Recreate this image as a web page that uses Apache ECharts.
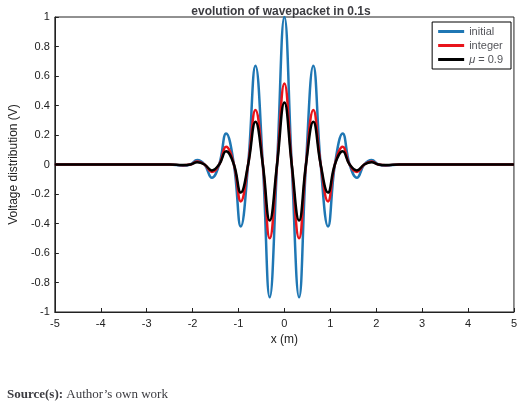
<!DOCTYPE html>
<html><head><meta charset="utf-8">
<script src="https://cdn.jsdelivr.net/npm/echarts@6/dist/echarts.min.js"></script>
<style>html,body{margin:0;padding:0;background:#fff}#c{width:520px;height:407px}</style>
</head><body><div id="c"></div>
<script>
const xs = [-5,-2.5,-2.21,-2.05,-1.9,-1.74,-1.58,-1.42,-1.27,-1.1,-0.95,-0.79,-0.63,-0.47,-0.32,-0.16,0,0.16,0.32,0.47,0.63,0.79,0.95,1.1,1.27,1.42,1.58,1.74,1.9,2.05,2.21,2.5,5];
const initial = [0,0,-0.008,0,0.03,0,-0.09,0,0.21,0,-0.42,0,0.67,0,-0.9,0,1.0,0,-0.9,0,0.67,0,-0.42,0,0.21,0,-0.09,0,0.03,0,-0.008,0,0];
const integer = [0,0,-0.005,0,0.02,0,-0.05,0,0.12,0,-0.25,0,0.37,0,-0.5,0,0.55,0,-0.5,0,0.37,0,-0.25,0,0.12,0,-0.05,0,0.02,0,-0.005,0,0];
const mu09 = [0,0,-0.004,0,0.015,0,-0.04,0,0.09,0,-0.19,0,0.29,0,-0.38,0,0.42,0,-0.38,0,0.29,0,-0.19,0,0.09,0,-0.04,0,0.015,0,-0.004,0,0];
const names = ['initial','integer','{i|μ} = 0.9'];
const colors = ['#1f77b4','#e8141b','#000000'];
const pair = a => xs.map((x,i)=>[x,a[i]]);
const chart = echarts.init(document.getElementById('c'));
const mk = (n,a,c,w)=>({name:n,type:'line',data:pair(a),smooth:0.45,showSymbol:false,lineStyle:{color:c,width:w},itemStyle:{color:c}});
chart.setOption({
 animation:false,
 title:[{text:'evolution of wavepacket in 0.1s',left:276,top:1,textAlign:'center',textStyle:{fontSize:12,fontWeight:'bold',fontFamily:'Liberation Sans'}},
  {text:'{b|Source(s):} Author’s own work',left:2,top:383,textStyle:{rich:{b:{fontWeight:'bold',fontSize:13,fontFamily:'Liberation Serif'}},fontSize:13,fontWeight:'normal',fontFamily:'Liberation Serif'}}],
 legend:{right:9,top:22,orient:'vertical',itemWidth:26,itemHeight:3,itemGap:3,backgroundColor:'#fff',borderColor:'#000',borderWidth:1,padding:[4,8,4,6],
  textStyle:{fontSize:11,fontFamily:'Liberation Sans',rich:{i:{fontStyle:'italic',fontSize:11}}},icon:'rect'},
 grid:{left:38,right:5,top:17,bottom:95,show:true,borderColor:'#222',borderWidth:1},
 xAxis:{type:'value',min:-5,max:5,interval:1,name:'x (m)',nameLocation:'middle',nameGap:18,nameTextStyle:{fontSize:12,color:'#222'},
  axisLine:{onZero:false,lineStyle:{color:'#222'}},axisTick:{inside:true,length:4},splitLine:{show:false},axisLabel:{fontSize:11,color:'#222',margin:6}},
 yAxis:{type:'value',min:-1,max:1,interval:0.2,name:'Voltage distribution (V)',nameLocation:'middle',nameGap:25,nameTextStyle:{fontSize:12,color:'#222'},
  axisLine:{onZero:false,lineStyle:{color:'#222'}},axisTick:{inside:true,length:4},splitLine:{show:false},
  axisLabel:{fontSize:11,color:'#222',margin:5,formatter:v=>String(Math.round(v*10)/10)}},
 series:[mk(names[0],initial,colors[0],2.5),mk(names[1],integer,colors[1],2.5),mk(names[2],mu09,colors[2],2.5)]
});
</script></body></html>
